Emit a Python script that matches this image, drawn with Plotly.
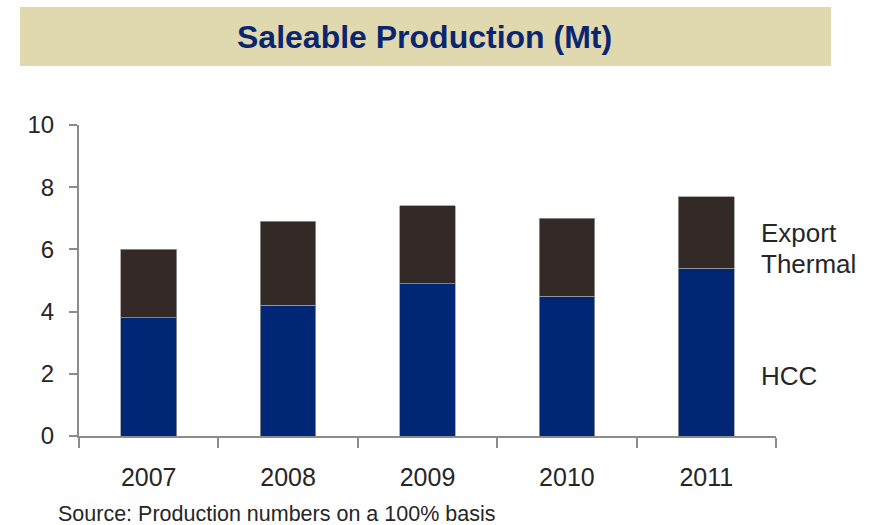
import plotly.graph_objects as go

# Saleable production by year (Mt)
years = ["2007", "2008", "2009", "2010", "2011"]
hcc = [3.8, 4.2, 4.9, 4.5, 5.4]
export_thermal = [2.2, 2.7, 2.5, 2.5, 2.3]

NAVY = "#002776"
DARK = "#332A28"
TEXT = "#262626"
AXIS = "#8C8C8C"
FONT = "Liberation Sans, Arial, sans-serif"

# plot area in pixels: x 79..776, y 125..436
L, R, T, B = 79, 776, 125, 436


def px(x):
    return (x - L) / (R - L)


def py(y):
    return (B - y) / (B - T)


fig = go.Figure()
fig.add_trace(go.Bar(
    x=years, y=hcc, name="HCC",
    marker=dict(color=NAVY, line=dict(color="#9a9a9a", width=0.8)),
    width=0.4,
))
fig.add_trace(go.Bar(
    x=years, y=export_thermal, name="Export Thermal",
    marker=dict(color=DARK, line=dict(color="#9a9a9a", width=0.8)),
    width=0.4,
))

# Title banner
fig.add_shape(type="rect", xref="paper", yref="paper",
              x0=px(20), x1=px(831), y0=py(7), y1=py(66),
              fillcolor="#E0D8AF", line=dict(width=0), layer="below")
fig.add_annotation(text="<b>Saleable Production (Mt)</b>", xref="paper", yref="paper",
                   x=px(424), y=py(37), showarrow=False,
                   xanchor="center", yanchor="middle",
                   font=dict(family=FONT, size=32, color="#0A2670"))

# Series labels on the right
for label, ycen in [("Export", 233), ("Thermal", 264), ("HCC", 376)]:
    fig.add_annotation(text=label, xref="paper", yref="paper",
                       x=px(759), y=py(ycen), showarrow=False,
                       xanchor="left", yanchor="middle", align="left",
                       font=dict(family=FONT, size=26, color=TEXT))

# Source note
fig.add_annotation(text="Source: Production numbers on a 100% basis",
                   xref="paper", yref="paper",
                   x=px(56), y=py(514), showarrow=False,
                   xanchor="left", yanchor="middle", height=22,
                   font=dict(family=FONT, size=21.5, color=TEXT))

fig.update_layout(
    barmode="stack",
    width=871, height=525,
    margin=dict(l=L, r=871 - R, t=T, b=525 - B),
    paper_bgcolor="white", plot_bgcolor="white",
    showlegend=False,
    font=dict(family=FONT, size=24, color=TEXT),
)
fig.update_xaxes(
    type="category", showline=True, linecolor=AXIS, linewidth=2,
    ticks="outside", tickson="boundaries", ticklen=10, tickcolor=AXIS, tickwidth=2,
    ticklabelstandoff=18, showgrid=False, zeroline=False,
    tickfont=dict(family=FONT, size=25, color=TEXT),
)
fig.update_yaxes(
    range=[0, 10], dtick=2, showline=True, linecolor=AXIS, linewidth=2,
    ticks="outside", ticklen=8, tickcolor=AXIS, tickwidth=2,
    ticklabelstandoff=10, showgrid=False, zeroline=False,
    tickfont=dict(family=FONT, size=24, color=TEXT),
)

fig.write_html("out.html")
